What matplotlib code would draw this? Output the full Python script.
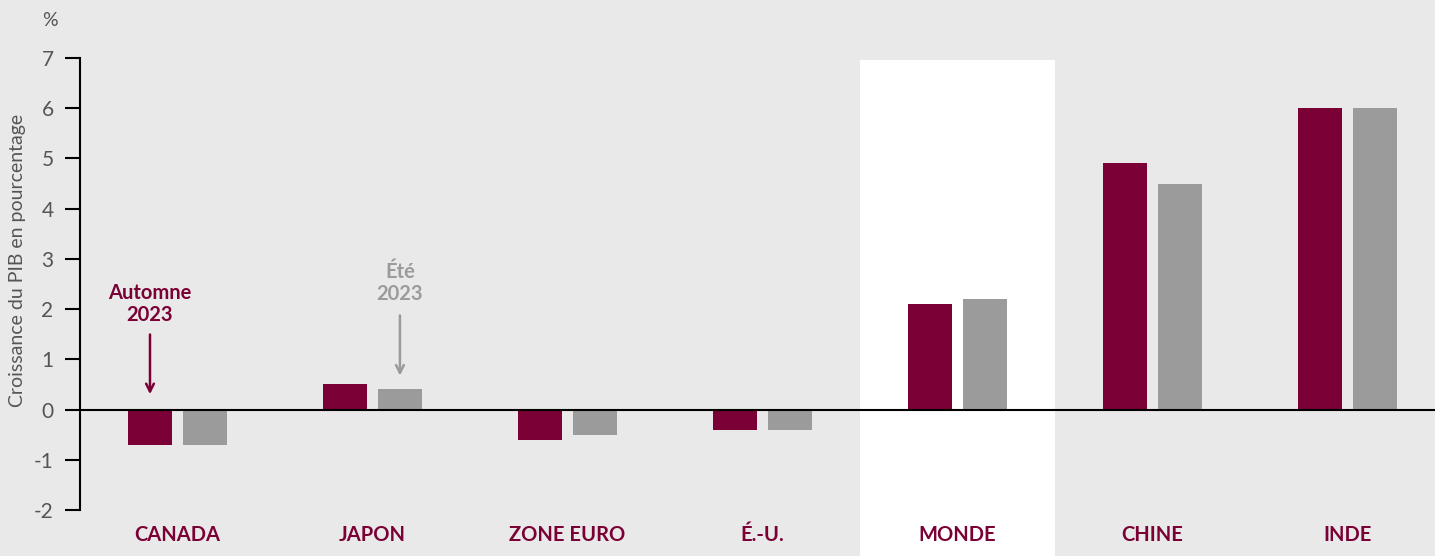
import matplotlib.pyplot as plt
from matplotlib.patches import Rectangle
import numpy as np

plt.rcParams['font.family'] = ['Lato', 'DejaVu Sans']

# data
categories = ["CANADA", "JAPON", "ZONE EURO", "É.-U.", "MONDE", "CHINE", "INDE"]
automne_2023 = [-0.7, 0.5, -0.6, -0.4, 2.1, 4.9, 6.0]
ete_2023 = [-0.7, 0.4, -0.5, -0.4, 2.2, 4.5, 6.0]
yticks = [-2, -1, 0, 1, 2, 3, 4, 5, 6, 7]

maroon = "#7a0036"
grey = "#9b9b9b"
bg = "#e8e9e8"
txt = "#555555"

fig = plt.figure(figsize=(14.35, 5.56), dpi=100, facecolor=bg)
ax = fig.add_axes([80/1435, 1-510/556, 1-80/1435, (510-58)/556])
ax.set_facecolor("none")

x = np.arange(len(categories))
w = 0.225
off = 0.141

# white highlight behind MONDE
ax.add_patch(Rectangle((3.5, -3.0), 1.0, 9.96, facecolor="white",
                       edgecolor="none", zorder=0, clip_on=False))

ax.bar(x - off, automne_2023, w, color=maroon, zorder=2)
ax.bar(x + off, ete_2023, w, color=grey, zorder=2)
ax.axhline(0, color="black", lw=1.5, zorder=3)

ax.set_xlim(-0.50, 6.45)
ax.set_ylim(-2, 7)
ax.set_yticks(yticks)
ax.set_yticklabels([str(v) for v in yticks], fontsize=15, color=txt)
ax.tick_params(axis="y", length=11, width=1.5, pad=8, color="black")
ax.set_xticks(x)
ax.set_xticklabels(categories, fontsize=14.5, fontweight="bold", color=maroon)
ax.tick_params(axis="x", length=0, pad=11)

for s in ["top", "right", "bottom"]:
    ax.spines[s].set_visible(False)
ax.spines["left"].set_linewidth(1.5)
ax.spines["left"].set_bounds(-2, 7)

fig.text(18/1435, 1-260/556, "Croissance du PIB en pourcentage", fontsize=14,
         color=txt, rotation=90, ha="center", va="center")
fig.text(50/1435, 1-20/556, "%", fontsize=14, color=txt, ha="center", va="center")

# annotations
ax.annotate("", xy=(0 - off, 0.25), xytext=(0 - off, 1.55),
            arrowprops=dict(arrowstyle="->", color=maroon, lw=1.8,
                            mutation_scale=14))
ax.text(0 - off, 1.68, "Automne\n2023", color=maroon, fontsize=14.5,
        fontweight="bold", ha="center", va="bottom", linespacing=1.15)
ax.annotate("", xy=(1 + off, 0.62), xytext=(1 + off, 1.93),
            arrowprops=dict(arrowstyle="->", color=grey, lw=1.8,
                            mutation_scale=14))
ax.text(1 + off, 2.1, "Été\n2023", color=grey, fontsize=14.5,
        fontweight="bold", ha="center", va="bottom", linespacing=1.15)

fig.savefig("out.png", dpi=100, facecolor=bg)
